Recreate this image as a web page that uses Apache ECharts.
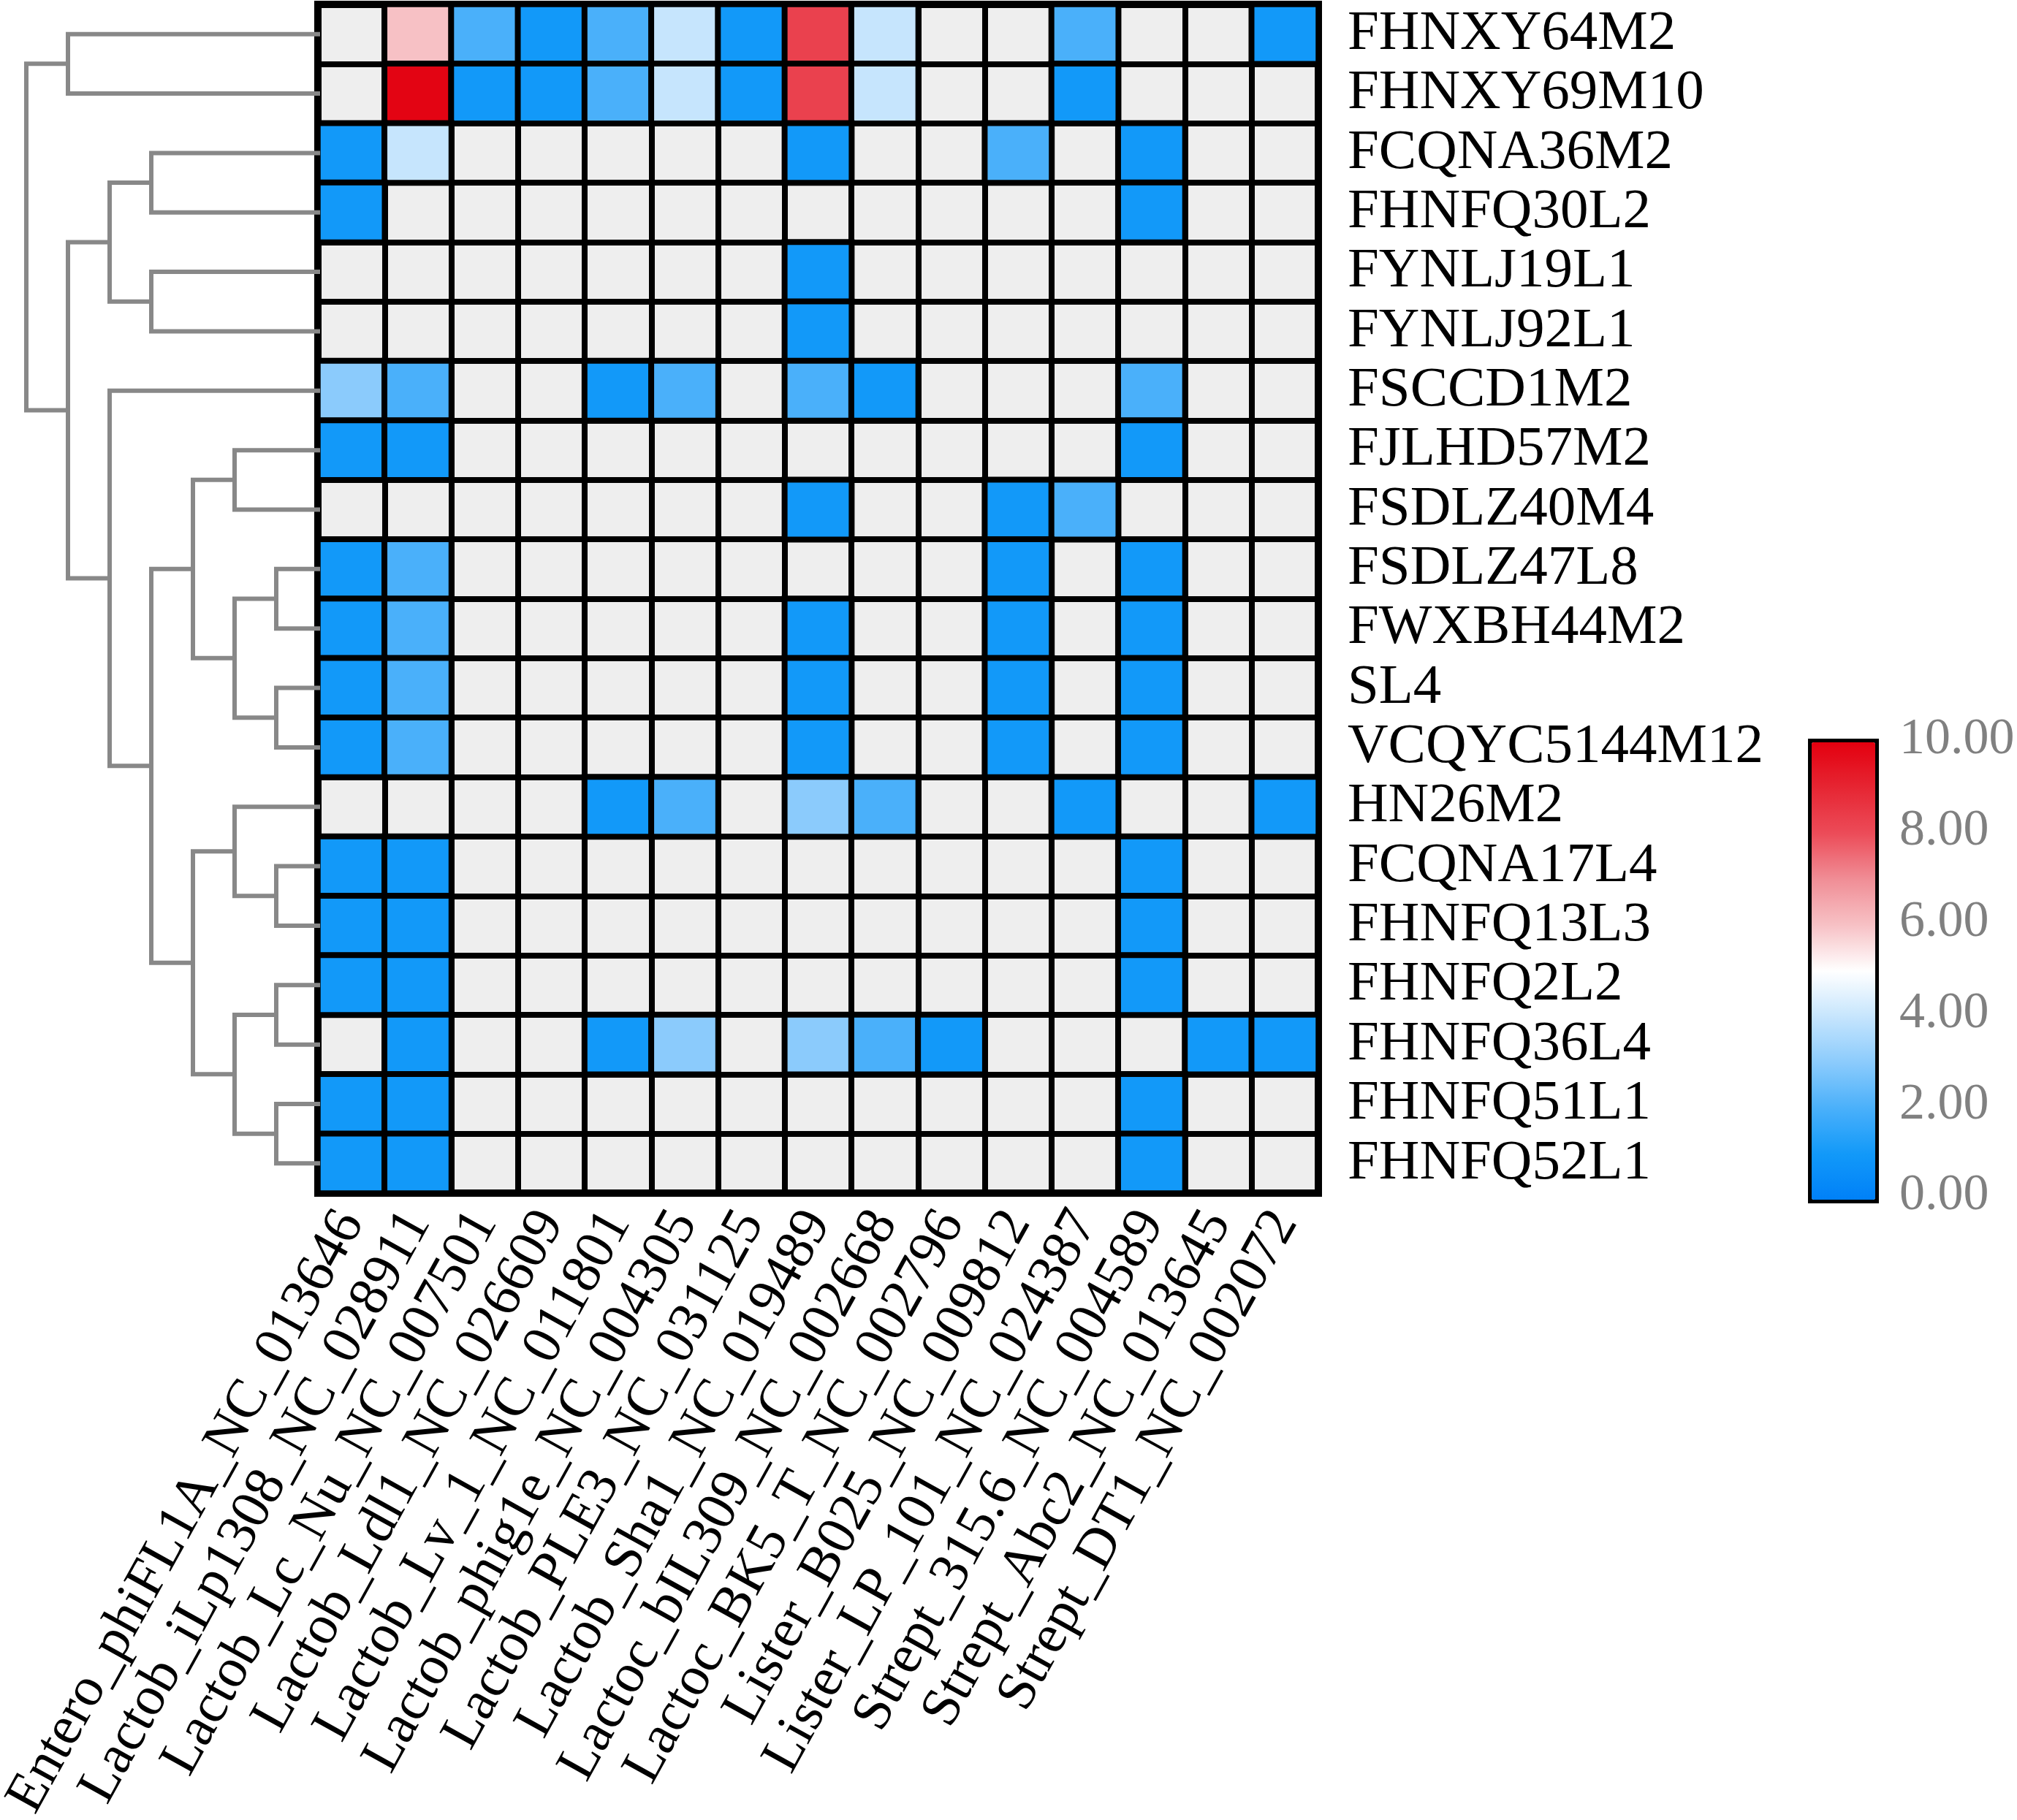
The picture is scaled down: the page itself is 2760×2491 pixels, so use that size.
<!DOCTYPE html>
<html>
<head>
<meta charset="utf-8">
<script src="https://cdn.jsdelivr.net/npm/echarts@6/dist/echarts.min.js"></script>
<style>
html, body { margin: 0; padding: 0; background: #fff; }
#main { width: 2760px; height: 2491px; }
</style>
</head>
<body>
<div id="main"></div>
<script>
// samples (rows, top to bottom)
var samples = ['FHNXY64M2', 'FHNXY69M10', 'FCQNA36M2', 'FHNFQ30L2', 'FYNLJ19L1', 'FYNLJ92L1',
    'FSCCD1M2', 'FJLHD57M2', 'FSDLZ40M4', 'FSDLZ47L8', 'FWXBH44M2', 'SL4', 'VCQYC5144M12',
    'HN26M2', 'FCQNA17L4', 'FHNFQ13L3', 'FHNFQ2L2', 'FHNFQ36L4', 'FHNFQ51L1', 'FHNFQ52L1'];

// phages (columns, left to right)
var phages = ['Entero_phiFL1A_NC_013646', 'Lactob_iLp1308_NC_028911', 'Lactob_Lc_Nu_NC_007501',
    'Lactob_Ldl1_NC_026609', 'Lactob_Lv_1_NC_011801', 'Lactob_phig1e_NC_004305',
    'Lactob_PLE3_NC_031125', 'Lactob_Sha1_NC_019489', 'Lactoc_bIL309_NC_002668',
    'Lactoc_BK5_T_NC_002796', 'Lister_B025_NC_009812', 'Lister_LP_101_NC_024387',
    'Strept_315.6_NC_004589', 'Strept_Abc2_NC_013645', 'Strept_DT1_NC_002072'];

// null = not detected (grey cell)
var abundance = [
    [null, 6.0, 2.0, 1.0, 2.0, 4.0, 1.0, 8.3, 4.0, null, null, 2.0, null, null, 1.0],
    [null, 9.9, 1.0, 1.0, 2.0, 4.0, 1.0, 8.3, 4.0, null, null, 1.0, null, null, null],
    [1.0, 4.0, null, null, null, null, null, 1.0, null, null, 2.0, null, 1.0, null, null],
    [1.0, null, null, null, null, null, null, null, null, null, null, null, 1.0, null, null],
    [null, null, null, null, null, null, null, 1.0, null, null, null, null, null, null, null],
    [null, null, null, null, null, null, null, 1.0, null, null, null, null, null, null, null],
    [3.0, 2.0, null, null, 1.0, 2.0, null, 2.0, 1.0, null, null, null, 2.0, null, null],
    [1.0, 1.0, null, null, null, null, null, null, null, null, null, null, 1.0, null, null],
    [null, null, null, null, null, null, null, 1.0, null, null, 1.0, 2.0, null, null, null],
    [1.0, 2.0, null, null, null, null, null, null, null, null, 1.0, null, 1.0, null, null],
    [1.0, 2.0, null, null, null, null, null, 1.0, null, null, 1.0, null, 1.0, null, null],
    [1.0, 2.0, null, null, null, null, null, 1.0, null, null, 1.0, null, 1.0, null, null],
    [1.0, 2.0, null, null, null, null, null, 1.0, null, null, 1.0, null, 1.0, null, null],
    [null, null, null, null, 1.0, 2.0, null, 3.0, 2.0, null, null, 1.0, null, null, 1.0],
    [1.0, 1.0, null, null, null, null, null, null, null, null, null, null, 1.0, null, null],
    [1.0, 1.0, null, null, null, null, null, null, null, null, null, null, 1.0, null, null],
    [1.0, 1.0, null, null, null, null, null, null, null, null, null, null, 1.0, null, null],
    [null, 1.0, null, null, 1.0, 3.0, null, 3.0, 2.0, 1.0, null, null, null, 1.0, 1.0],
    [1.0, 1.0, null, null, null, null, null, null, null, null, null, null, 1.0, null, null],
    [1.0, 1.0, null, null, null, null, null, null, null, null, null, null, 1.0, null, null]
];

// row dendrogram: [height, left, right], leaves are row indexes
var dendro = [7,
    [6, 0, 1],
    [6,
        [5, [4, 2, 3], [4, 4, 5]],
        [5, 6,
            [4,
                [3, [2, 7, 8], [2, [1, 9, 10], [1, 11, 12]]],
                [3, [2, 13, [1, 14, 15]], [2, [1, 16, 17], [1, 18, 19]]]
            ]
        ]
    ]
];

// colour bar
var scaleTicks = [0, 2, 4, 6, 8, 10];
var scaleColors = ['#0080f8', '#1299f9', '#4ab0fa', '#8bcbfc', '#c6e5fd', '#ffffff',
    '#f7c1c5', '#f08e96', '#ec4c59', '#e62633', '#e3000f'];

var serif = 'Liberation Serif';

var cells = [];
abundance.forEach(function (row, i) {
    row.forEach(function (v, j) {
        if (v !== null) cells.push([j, i, v]);
    });
});

var branches = [];
function walk(node) {
    if (typeof node === 'number') return {y: node + 0.5, h: 0};
    var a = walk(node[1]), b = walk(node[2]), h = node[0];
    branches.push({coords: [[a.h, a.y], [h, a.y], [h, b.y], [b.h, b.y]]});
    return {y: (a.y + b.y) / 2, h: h};
}
walk(dendro);

var chart = echarts.init(document.getElementById('main'));

var option = {
    animation: false,
    backgroundColor: '#fff',
    grid: [
        {left: 435, top: 6, width: 1369, height: 1627, show: true, backgroundColor: '#eeeeee',
            borderColor: '#000', borderWidth: 10, outerBoundsMode: 'none', containLabel: false},
        {left: 36, top: 6, width: 399, height: 1627, outerBoundsMode: 'none', containLabel: false},
        {left: 2566, top: 1013, width: 1, height: 624, outerBoundsMode: 'none', containLabel: false}
    ],
    xAxis: [
        {
            type: 'category', gridIndex: 0, data: phages, position: 'bottom',
            axisLine: {show: false}, axisTick: {show: false},
            splitLine: {show: true, interval: 0, lineStyle: {color: '#000', width: 8}},
            axisLabel: {interval: 0, rotate: 61, margin: 30, fontSize: 76, color: '#000', fontFamily: serif}
        },
        {type: 'value', gridIndex: 1, min: 0, max: dendro[0], inverse: true, show: false},
        {type: 'value', gridIndex: 2, show: false}
    ],
    yAxis: [
        {
            type: 'category', gridIndex: 0, data: samples, inverse: true, position: 'right',
            axisLine: {show: false}, axisTick: {show: false},
            splitLine: {show: true, interval: 0, lineStyle: {color: '#000', width: 8}},
            axisLabel: {interval: 0, margin: 40, fontSize: 77, color: '#000', fontFamily: serif}
        },
        {type: 'value', gridIndex: 1, min: 0, max: samples.length, inverse: true, show: false},
        {
            type: 'value', gridIndex: 2, position: 'right',
            min: scaleTicks[0], max: scaleTicks[scaleTicks.length - 1],
            interval: scaleTicks[1] - scaleTicks[0],
            axisLine: {show: false}, axisTick: {show: false}, splitLine: {show: false},
            axisLabel: {margin: 32, fontSize: 70, color: '#808080', fontFamily: serif,
                formatter: function (v) { return v.toFixed(2); }}
        }
    ],
    visualMap: {
        type: 'continuous', seriesIndex: 0,
        min: scaleTicks[0], max: scaleTicks[scaleTicks.length - 1],
        calculable: false, hoverLink: false, orient: 'vertical',
        left: 2474, top: 1011, itemWidth: 87, itemHeight: 626, padding: 0,
        borderColor: '#000', borderWidth: 10,
        inRange: {color: scaleColors}
    },
    series: [
        {
            type: 'heatmap', xAxisIndex: 0, yAxisIndex: 0, data: cells,
            itemStyle: {borderColor: '#000', borderWidth: 8},
            emphasis: {disabled: true}
        },
        {
            type: 'lines', coordinateSystem: 'cartesian2d', xAxisIndex: 1, yAxisIndex: 1,
            polyline: true, silent: true, data: branches,
            lineStyle: {color: '#888888', width: 6, opacity: 1, cap: 'square', join: 'miter'}
        }
    ]
};

chart.setOption(option);
</script>
</body>
</html>
